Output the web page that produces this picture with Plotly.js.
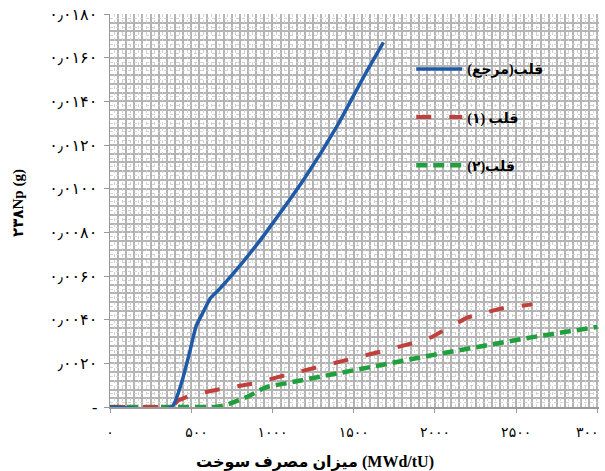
<!DOCTYPE html>
<html><head><meta charset="utf-8">
<script src="https://cdn.plot.ly/plotly-3.0.1.min.js"></script>
<style>body{margin:0;background:#fff}</style></head>
<body><div id="chart" style="width:605px;height:471px"></div>
<script>
// ---- data ----
const seriesNames = ['قلب(مرجع)', 'قلب (۱)', 'قلب(۲)'];
const refX = [0, 380, 440, 490, 530, 570, 620, 680, 780, 900, 1000, 1200, 1400, 1560, 1683];
const refY = [0, 0, 0.0011, 0.0025, 0.0037, 0.0043, 0.0050, 0.00545, 0.0063, 0.0074, 0.0084, 0.0105, 0.0129, 0.0151, 0.0167];
const core1X = [0, 380, 420, 500, 700, 900, 1100, 1300, 1500, 1700, 1900, 1980, 2100, 2200, 2400, 2600];
const core1Y = [0, 0, 0.0003, 0.00055, 0.00085, 0.0011, 0.0015, 0.00186, 0.00222, 0.0026, 0.0030, 0.0032, 0.0037, 0.0041, 0.0045, 0.0047];
const core2X = [0, 650, 720, 790, 850, 930, 970, 1500, 2000, 2600, 3000];
const core2Y = [0, 0, 0.0001, 0.0003, 0.00048, 0.0008, 0.00093, 0.00168, 0.0024, 0.0032, 0.00367];

const xTickVals = [0, 500, 1000, 1500, 2000, 2500, 3000];
const xTickText = ['۰', '\u00a0\u00a0\u00a0۵۰۰', '۱۰۰۰', '۱۵۰۰', '۲۰۰۰', '۲۵۰۰', ''];
const xLastTickVal = 3000;
const xLastTickText = '۳۰۰';
const yTickVals = [0, 0.002, 0.004, 0.006, 0.008, 0.010, 0.012, 0.014, 0.016, 0.018];
const yTickText = ['-', '٫۰۰۲۰', '۰٫۰۰۴۰', '۰٫۰۰۶۰', '۰٫۰۰۸۰', '۰٫۰۱۰۰', '۰٫۰۱۲۰', '۰٫۰۱۴۰', '۰٫۰۱۶۰', '۰٫۰۱۸۰'];
const xTitle = 'میزان مصرف سوخت (MWd/tU)';
const yTitle = '۲۳۸Np (g)';

// ---- chart ----
const faFont = 'Liberation Serif, DejaVu Sans, serif';
const X_RANGE = [0, 3010], Y_RANGE = [0, 0.018];
const traces = [
  {x: [], y: [], xaxis: 'x2', yaxis: 'y2', showlegend: false, hoverinfo: 'skip', mode: 'lines'},
  {x: core2X, y: core2Y, name: seriesNames[2], mode: 'lines', legendgroup: 'c', legendrank: 3,
   line: {color: '#1fa03c', width: 4.5, dash: '11px,6px'}},
  {x: core1X, y: core1Y, name: seriesNames[1], mode: 'lines', legendgroup: 'b', legendrank: 2,
   line: {color: '#c0413b', width: 4, dash: '15px,18px'}},
  {x: refX, y: refY, name: seriesNames[0], mode: 'lines', legendgroup: 'a', legendrank: 1,
   line: {color: '#1f5aa8', width: 3.5, shape: 'spline', smoothing: 0.5}}
];
const gridC = '#b4b4b4';
const fine = '#d2d2d2';
const layout = {
  width: 605, height: 471,
  margin: {l: 110, r: 6, t: 14, b: 64},
  paper_bgcolor: '#fff', plot_bgcolor: '#fff',
  showlegend: true,
  legend: {x: 0.616, xanchor: 'left', y: 0.90, yanchor: 'top', bgcolor: 'rgba(0,0,0,0)',
           traceorder: 'grouped', tracegroupgap: 27, itemwidth: 46,
           font: {family: faFont, size: 14, color: '#000', weight: 'bold'}},
  xaxis: {range: X_RANGE, tickmode: 'array', tickvals: xTickVals, ticktext: xTickText,
          ticks: 'outside', ticklen: 4, tickcolor: '#999', showline: true, linecolor: '#999', linewidth: 1.5,
          showgrid: true, gridcolor: gridC, gridwidth: 2, zeroline: false,
          ticklabelstandoff: 8,
          minor: {dtick: 50, tick0: 0, showgrid: true, gridcolor: gridC, gridwidth: 2, ticks: ''},
          tickfont: {family: faFont, size: 14, color: '#000'}},
  yaxis: {range: Y_RANGE, tickmode: 'array', tickvals: yTickVals, ticktext: yTickText,
          ticks: 'outside', ticklen: 5, tickcolor: '#999', showline: true, linecolor: '#999', linewidth: 1.5,
          showgrid: true, gridcolor: gridC, gridwidth: 2, zeroline: false, ticklabelstandoff: 3,
          minor: {dtick: 0.0004, tick0: 0, showgrid: true, gridcolor: gridC, gridwidth: 2, ticks: ''},
          tickfont: {family: faFont, size: 16, color: '#000'}},
  xaxis2: {overlaying: 'x', range: X_RANGE, tickmode: 'linear', tick0: 25, dtick: 50, showticklabels: false,
           ticks: '', showgrid: true, gridcolor: fine, gridwidth: 1, griddash: 'dot', zeroline: false, showline: false},
  yaxis2: {overlaying: 'y', range: Y_RANGE, tickmode: 'linear', tick0: 0.0002, dtick: 0.0004, showticklabels: false,
           ticks: '', showgrid: true, gridcolor: fine, gridwidth: 1, griddash: 'dot', zeroline: false, showline: false},
  annotations: [
    {text: xLastTickText, xref: 'x', yref: 'paper', x: xLastTickVal, y: -(432 - 407) / 393,
     xanchor: 'right', yanchor: 'middle', xshift: 4, showarrow: false,
     font: {family: faFont, size: 14, color: '#000'}},
    {text: xTitle, xref: 'paper', yref: 'paper', x: (315 - 110) / 489, y: -(462 - 407) / 393,
     xanchor: 'center', yanchor: 'middle', showarrow: false,
     font: {family: faFont, size: 16, color: '#000', weight: 'bold'}},
    {text: yTitle, xref: 'paper', yref: 'paper', x: -(110 - 18) / 489, y: (407 - 203) / 393,
     xanchor: 'center', yanchor: 'middle', showarrow: false, textangle: -90,
     font: {family: faFont, size: 15, color: '#000', weight: 'bold'}}
  ]
};
Plotly.newPlot('chart', traces, layout, {displayModeBar: false, staticPlot: true});
</script></body></html>
